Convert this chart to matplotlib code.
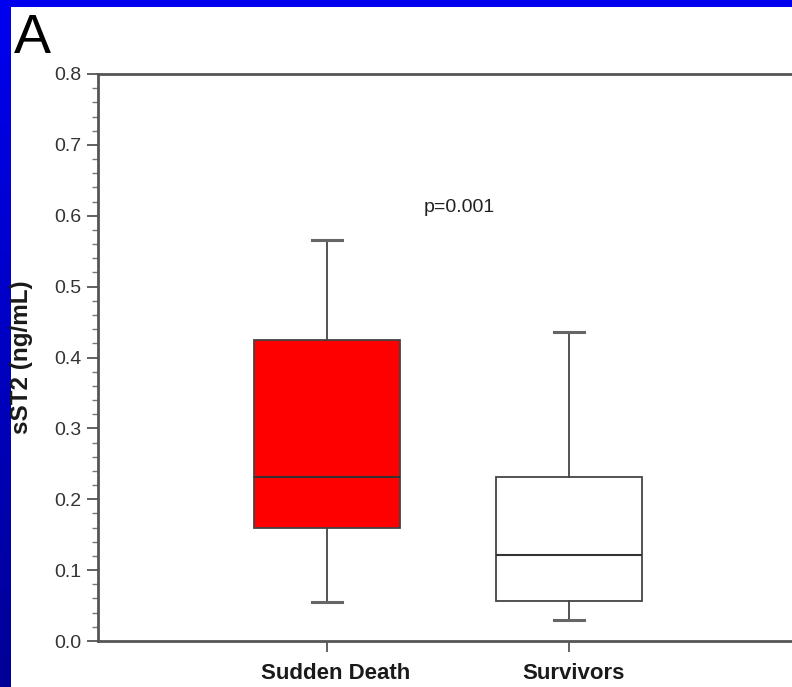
import matplotlib
matplotlib.use("Agg")
import matplotlib.pyplot as plt
import matplotlib.transforms as mtrans
import numpy as np
from matplotlib.colors import LinearSegmentedColormap

plt.rcParams['font.family'] = ['Liberation Sans', 'DejaVu Sans']

categories = ["Sudden Death", "Survivors"]
whisker_low = [0.055, 0.029]
q1 = [0.160, 0.057]
median = [0.231, 0.121]
q3 = [0.425, 0.231]
whisker_high = [0.566, 0.436]
box_colors = ["#ff0000", "#ffffff"]
p_text = "p=0.001"

W, H = 792, 687
fig = plt.figure(figsize=(W / 100, H / 100), dpi=100)
fig.patch.set_facecolor("white")

# blue border bands
bg = fig.add_axes([0, 0, 1, 1])
bg.set_xlim(0, W)
bg.set_ylim(H, 0)
bg.axis("off")
grad = np.linspace(0, 1, 256).reshape(-1, 1)
cmap = LinearSegmentedColormap.from_list("b", ["#0000f0", "#000096"])
bg.imshow(grad, cmap=cmap, extent=[0, 11, H, 0], aspect="auto")
bg.add_patch(plt.Rectangle((0, 0), W, 7, color="#0000ee", lw=0))

ax_left, ax_right = 98, 792
ax_top, ax_bot = 74, 641
ax = fig.add_axes([ax_left / W, 1 - ax_bot / H, (ax_right - ax_left) / W, (ax_bot - ax_top) / H])
ax.set_facecolor("none")

px_per_unit = 242.0
x0 = 1 - (327 - ax_left) / px_per_unit
x1 = 1 + (ax_right - 327) / px_per_unit
ax.set_xlim(x0, x1)
ax.set_ylim(0, 0.8)

stats = []
for i, c in enumerate(categories):
    stats.append(dict(label=c, whislo=whisker_low[i], q1=q1[i], med=median[i],
                      q3=q3[i], whishi=whisker_high[i], fliers=[]))
lc = "#444444"
bp = ax.bxp(stats, positions=[1, 2], widths=0.6, patch_artist=True, showfliers=False,
            boxprops=dict(edgecolor=lc, linewidth=1.3),
            medianprops=dict(color="#333333", linewidth=1.5),
            whiskerprops=dict(color=lc, linewidth=1.3),
            capprops=dict(color="#666666", linewidth=2.2),
            capwidths=0.128)
for patch, col in zip(bp["boxes"], box_colors):
    patch.set_facecolor(col)

ax.spines["right"].set_visible(False)
for s in ["left", "top", "bottom"]:
    ax.spines[s].set_color("#555555")
    ax.spines[s].set_linewidth(2)

ax.set_yticks(np.arange(0, 0.81, 0.1))
ax.set_yticklabels([f"{v:.1f}" for v in np.arange(0, 0.81, 0.1)])
ax.set_yticks(np.arange(0, 0.801, 0.02), minor=True)
ax.tick_params(axis="y", which="major", direction="out", length=8, width=1.3,
               color="#555555", labelsize=14, labelcolor="#333333", pad=4)
ax.tick_params(axis="y", which="minor", direction="out", length=4, width=1.0, color="#777777")
ax.set_xticks([1, 2])
ax.set_xticklabels(categories, fontweight="bold", fontsize=16)
ax.tick_params(axis="x", direction="out", length=8, width=1.3, color="#555555", pad=8,
               labelcolor="#1a1a1a")
# small horizontal offsets of tick labels as in the reference
for lbl, dx in zip(ax.get_xticklabels(), [9, 5]):
    lbl.set_transform(lbl.get_transform() + mtrans.ScaledTranslation(dx / 100, 0, fig.dpi_scale_trans))

ax.set_ylabel("sST2 (ng/mL)", fontweight="bold", fontsize=17.5, color="#1a1a1a")
ax.yaxis.set_label_coords((33 - ax_left) / (ax_right - ax_left), 0.5)

ax.text(1.545, 0.611, p_text, ha="center", va="center", fontsize=14, color="#222222")

fig.text(14 / W, 1 - 39 / H, "A", fontsize=40, ha="left", va="center", color="black")

fig.savefig("out.png", dpi=100)
